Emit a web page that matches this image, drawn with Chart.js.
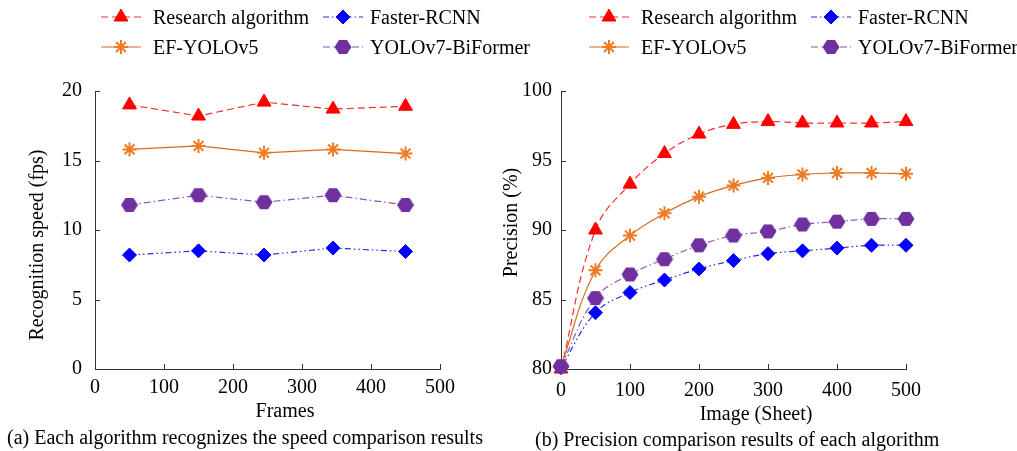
<!DOCTYPE html>
<html>
<head>
<meta charset="utf-8">
<script src="https://cdn.jsdelivr.net/npm/chart.js@4.4.1/dist/chart.umd.min.js"></script>
<style>
  html, body { margin: 0; padding: 0; background: #fff; }
  #wrap { position: relative; width: 1017px; height: 451px; overflow: hidden; font-family: "Liberation Serif", "Times New Roman", serif; color: #000; }
  .box { position: absolute; top: 0; height: 451px; }
  .txt { position: absolute; font-size: 20px; line-height: 20px; white-space: nowrap; }
  .icon { position: absolute; }
</style>
</head>
<body>
<div id="wrap">
  <div class="box" style="left:0;width:490px"><canvas id="Chart1" width="490" height="451"></canvas></div>
  <div class="box" style="left:490px;width:527px"><canvas id="Chart2" width="527" height="451"></canvas></div>
  <div class="txt" style="left:7px;top:427px">(a) Each algorithm recognizes the speed comparison results</div>
  <div class="txt" style="left:535px;top:429px">(b) Precision comparison results of each algorithm</div>
</div>
<script>
// series names
const seriesNames = ['Research algorithm', 'Faster-RCNN', 'EF-YOLOv5', 'YOLOv7-BiFormer'];

// (a) recognition speed
const speedFrames = [50, 150, 245, 345, 450];
const speedResearch = [19.0, 18.2, 19.2, 18.7, 18.9];
const speedFaster = [8.2, 8.5, 8.2, 8.7, 8.45];
const speedEF = [15.8, 16.05, 15.55, 15.8, 15.5];
const speedBiFormer = [11.8, 12.5, 12.0, 12.5, 11.8];

// (b) precision
const precImages = [0, 50, 100, 150, 200, 250, 300, 350, 400, 450, 500];
const precResearch = [80.0, 90.0, 93.3, 95.5, 96.9, 97.6, 97.8, 97.7, 97.7, 97.7, 97.8];
const precFaster = [80.1, 84.05, 85.5, 86.4, 87.2, 87.8, 88.3, 88.5, 88.7, 88.9, 88.9];
const precEF = [80.2, 87.1, 89.6, 91.2, 92.4, 93.2, 93.75, 94.0, 94.1, 94.1, 94.05];
const precBiFormer = [80.2, 85.1, 86.8, 87.9, 88.9, 89.6, 89.9, 90.4, 90.6, 90.8, 90.8];

// ticks
const xTicks = [0, 100, 200, 300, 400, 500];
const speedTicks = [0, 5, 10, 15, 20];
const precTicks = [80, 85, 90, 95, 100];

const FONT = { family: '"Liberation Serif", "Times New Roman", serif', size: 20 };

// hexagon marker (no built-in one)
const hexagon = document.createElement('canvas');
hexagon.width = 18; hexagon.height = 16;
(() => {
  const c = hexagon.getContext('2d');
  c.fillStyle = '#7030a0';
  c.beginPath();
  c.moveTo(0.5, 8); c.lineTo(5, 1); c.lineTo(13, 1);
  c.lineTo(17.5, 8); c.lineTo(13, 15); c.lineTo(5, 15);
  c.closePath(); c.fill();
})();

const styles = [
  { color: '#ff0000', line: '#ff2a2a', dash: [7, 4], point: 'triangle', radius: 8, bw: 1, order: 4 },
  { color: '#0000ff', line: '#2a2ae6', dash: [6, 3, 1.5, 3, 1.5, 3], point: 'rectRot', radius: 7, bw: 1, order: 3 },
  { color: '#ee7a22', line: '#d86a1e', dash: [], point: 'star', radius: 7, bw: 2, order: 2 },
  { color: '#7030a0', line: '#8a55c2', dash: [7, 3, 1.5, 3], point: hexagon, radius: 9, bw: 1, order: 1 }
];

function makeDataset(i, xs, ys, tension) {
  const s = styles[i];
  return {
    label: seriesNames[i],
    data: xs.map((x, k) => ({ x: x, y: ys[k] })),
    borderColor: s.line,
    borderWidth: 1.2,
    borderDash: s.dash,
    backgroundColor: s.color,
    pointStyle: s.point,
    pointRadius: s.radius,
    pointBackgroundColor: s.color,
    pointBorderColor: s.color,
    pointBorderWidth: s.bw,
    tension: tension,
    order: s.order,
    clip: false
  };
}

// short ticks pointing into the plot
const innerTicks = {
  id: 'innerTicks',
  beforeDatasetsDraw(chart) {
    const { ctx, scales: { x, y } } = chart;
    ctx.save();
    ctx.strokeStyle = '#333';
    ctx.lineWidth = 1;
    ctx.beginPath();
    x.ticks.forEach(t => {
      if (t.value === x.min) return;
      const px = Math.round(x.getPixelForValue(t.value)) + 0.5;
      ctx.moveTo(px, y.bottom); ctx.lineTo(px, y.bottom - 5);
    });
    y.ticks.forEach(t => {
      if (t.value === y.min) return;
      const py = Math.round(y.getPixelForValue(t.value)) + 0.5;
      ctx.moveTo(x.left, py); ctx.lineTo(x.left + 5, py);
    });
    ctx.stroke();
    ctx.restore();
  }
};

function axis(o) {
  return {
    type: 'linear',
    min: o.min,
    max: o.max,
    afterBuildTicks: s => { s.ticks = o.ticks.map(v => ({ value: v })); },
    afterFit: s => { if (o.width) s.width = o.width; if (o.height) s.height = o.height; },
    ticks: { padding: o.pad, color: '#000', font: FONT },
    grid: { display: true, drawOnChartArea: false, drawTicks: false },
    border: { display: true, color: '#333', width: 1 },
    title: { display: true, text: o.title, color: '#000', font: FONT, padding: o.titlePad }
  };
}

function makeChart(id, datasets, sx, sy, padding) {
  return new Chart(document.getElementById(id), {
    type: 'line',
    data: { datasets: datasets },
    options: {
      responsive: false,
      animation: false,
      layout: { padding: padding },
      plugins: { legend: { display: false }, tooltip: { enabled: false } },
      scales: { x: axis(sx), y: axis(sy) }
    },
    plugins: [innerTicks]
  });
}

makeChart('Chart1', [
  makeDataset(0, speedFrames, speedResearch, 0),
  makeDataset(1, speedFrames, speedFaster, 0),
  makeDataset(2, speedFrames, speedEF, 0),
  makeDataset(3, speedFrames, speedBiFormer, 0)
],
{ min: 0, max: 500, ticks: xTicks, height: 82, pad: 7, title: '       Frames', titlePad: { top: 0, bottom: 27 } },
{ min: 0, max: 20, ticks: speedTicks, width: 95, pad: 13, title: 'Recognition speed (fps)      ', titlePad: { top: 26, bottom: 0 } },
{ left: 0, right: 50, top: 91, bottom: 0 });

makeChart('Chart2', [
  makeDataset(0, precImages, precResearch, 0.4),
  makeDataset(1, precImages, precFaster, 0.4),
  makeDataset(2, precImages, precEF, 0.4),
  makeDataset(3, precImages, precBiFormer, 0.4)
],
{ min: 0, max: 500, ticks: xTicks, height: 82, pad: 10, title: '         Image (Sheet)', titlePad: { top: 0, bottom: 24 } },
{ min: 80, max: 100, ticks: precTicks, width: 71, pad: 9, title: '   Precision (%)', titlePad: { top: 10, bottom: 0 } },
{ left: 0, right: 111, top: 91, bottom: 0 });

// legends: two columns, icon = line sample with marker
function legend(dx) {
  const wrap = document.getElementById('wrap');
  const cols = [{ icon: 121, text: 153 }, { icon: 343, text: 370 }];
  const rows = [16.7, 46.7];
  const grid = [[0, 1], [2, 3]];
  grid.forEach((row, r) => row.forEach((i, c) => {
    const s = styles[i];
    const cv = document.createElement('canvas');
    cv.width = 44; cv.height = 20;
    cv.className = 'icon';
    cv.style.left = (dx + cols[c].icon - 22) + 'px';
    cv.style.top = (rows[r] - 10) + 'px';
    const g = cv.getContext('2d');
    g.strokeStyle = s.line; g.lineWidth = 1.2; g.setLineDash(s.dash);
    g.beginPath(); g.moveTo(2, 10); g.lineTo(42, 10); g.stroke();
    g.setLineDash([]);
    g.fillStyle = s.color; g.strokeStyle = s.color; g.lineWidth = s.bw;
    Chart.helpers.drawPoint(g, { pointStyle: s.point, radius: s.radius, rotation: 0, borderWidth: s.bw }, 22, 10);
    wrap.appendChild(cv);
    const t = document.createElement('div');
    t.className = 'txt';
    t.style.left = (dx + cols[c].text) + 'px';
    t.style.top = (rows[r] - 10.2) + 'px';
    t.textContent = seriesNames[i];
    wrap.appendChild(t);
  }));
}
legend(0);
legend(488);
</script>
</body>
</html>
